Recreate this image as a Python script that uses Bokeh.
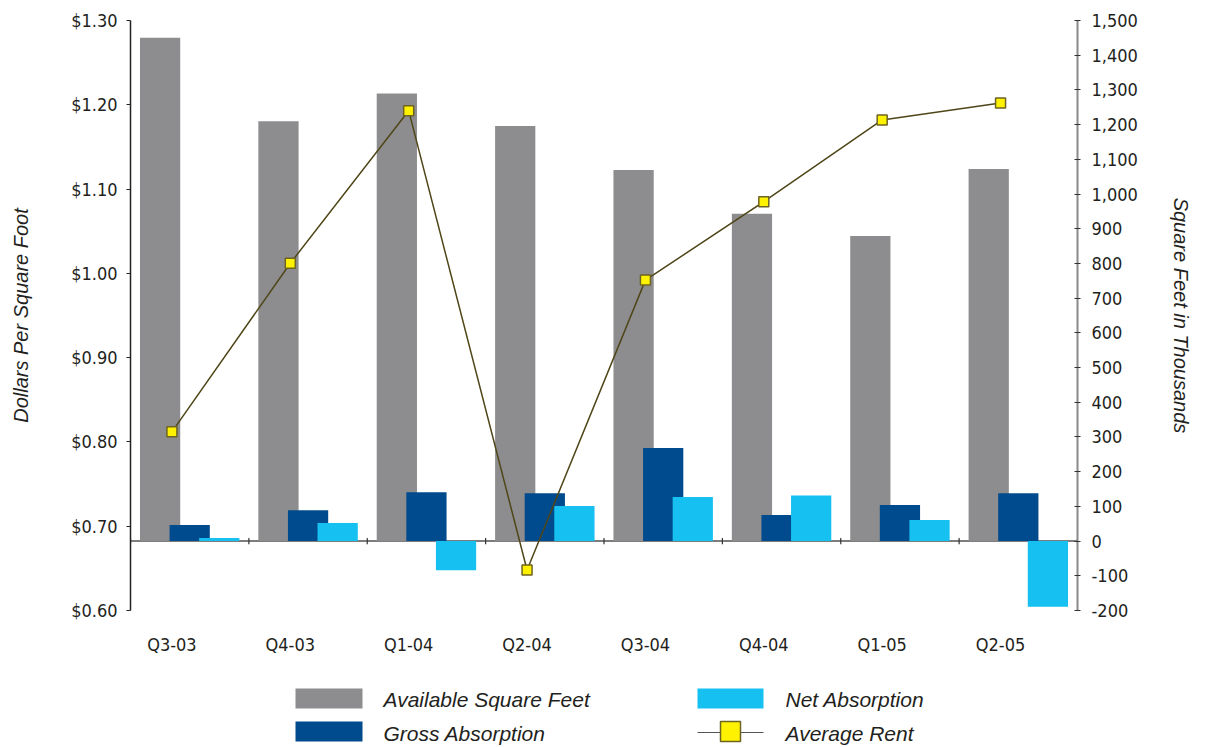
import numpy as np
from bokeh.plotting import figure
from bokeh.layouts import column
from bokeh.models import (Range1d, LinearAxis, FixedTicker, NumeralTickFormatter,
                          Span)
from bokeh.core.properties import value
from bokeh.embed import file_html
from bokeh.resources import INLINE

# ---------------- data ----------------
quarters = ["Q3-03", "Q4-03", "Q1-04", "Q2-04", "Q3-04", "Q4-04", "Q1-05", "Q2-05"]
available_sf = [1450, 1210, 1290, 1196, 1069, 943, 879, 1072]      # thousands sq ft
gross_absorption = [46, 89, 141, 138, 268, 75, 104, 138]           # thousands sq ft
net_absorption = [9, 52, -84, 101, 127, 131, 61, -189]             # thousands sq ft
average_rent = [0.812, 1.012, 1.193, 0.648, 0.992, 1.085, 1.182, 1.202]  # $/sq ft
series_names = ["Available Square Feet", "Gross Absorption", "Net Absorption", "Average Rent"]
left_ticks = [0.60, 0.70, 0.80, 0.90, 1.00, 1.10, 1.20, 1.30]
right_ticks = [-200, -100, 0, 100, 200, 300, 400, 500, 600, 700, 800, 900,
               1000, 1100, 1200, 1300, 1400, 1500]

# ---------------- styles ----------------
GRAY = "#8d8d8f"
DARK = "#004b8d"
CYAN = "#16c1f1"
LINE_C = "#4f4618"
MARK_FILL = "#fff200"
MARK_LINE = "#6d6322"
TXT = "#231f20"
NARROW = "DejaVu Sans Condensed"
ITAL = "Liberation Sans"

idx = np.arange(len(quarters))
center = idx + 0.15           # category centre (labels / line sit at integer positions)

p = figure(width=1206, height=660, output_backend="svg", toolbar_location=None,
           x_range=Range1d(-0.35, len(quarters) - 0.35),
           y_range=Range1d(0.60, 1.30),
           min_border_left=130, min_border_right=129, min_border_top=20,
           min_border_bottom=50, x_axis_location=None, y_axis_location=None,
           frame_align=False)
p.extra_y_ranges = {"right": Range1d(-200, 1500)}
p.outline_line_color = None
p.xgrid.visible = False
p.ygrid.visible = False
p.background_fill_color = "white"
p.border_fill_color = "white"

# zero line + category boundary ticks
zero = Span(location=0, dimension="width", y_range_name="right",
            line_color="#7d7d7d", line_width=2, level="underlay")
p.add_layout(zero)
bounds = np.arange(len(quarters) + 1) - 0.35
p.segment(x0=bounds, x1=bounds, y0=-9, y1=9, y_range_name="right",
          line_color="#333333", line_width=1.2)

# bars
bw = 0.34
p.vbar(x=center - 0.25, top=available_sf, bottom=0, width=bw, y_range_name="right",
       fill_color=GRAY, line_color=None)
p.vbar(x=center, top=gross_absorption, bottom=0, width=bw, y_range_name="right",
       fill_color=DARK, line_color=None)
p.vbar(x=center + 0.25, top=net_absorption, bottom=0, width=bw, y_range_name="right",
       fill_color=CYAN, line_color=None)

# average rent line
p.line(x=idx, y=average_rent, line_color=LINE_C, line_width=1.5)
p.scatter(x=idx, y=average_rent, marker="square", size=10,
          fill_color=MARK_FILL, line_color=MARK_LINE, line_width=1.5)

# left axis
la = LinearAxis(ticker=FixedTicker(ticks=left_ticks),
                formatter=NumeralTickFormatter(format="$0.00"),
                axis_label="Dollars Per Square Foot")
la.axis_line_color = "#222222"
la.axis_line_width = 1.5
la.major_tick_out = 4
la.major_tick_in = 0
la.major_tick_line_color = "#222222"
la.minor_tick_line_color = None
la.major_label_text_font = NARROW
la.major_label_text_font_size = "18px"
la.major_label_text_color = TXT
la.major_label_standoff = 9
la.axis_label_text_font = ITAL
la.axis_label_text_font_style = "italic"
la.axis_label_text_font_size = "20px"
la.axis_label_text_color = TXT
la.axis_label_standoff = 36
p.add_layout(la, "left")

# right axis
ra = LinearAxis(y_range_name="right", ticker=FixedTicker(ticks=right_ticks),
                formatter=NumeralTickFormatter(format="0,0"),
                axis_label="Square Feet in Thousands")
ra.axis_line_color = "#8a8a8a"
ra.axis_line_width = 2
ra.major_tick_out = 3
ra.major_tick_in = 3
ra.major_tick_line_color = "#333333"
ra.minor_tick_line_color = None
ra.major_label_text_font = NARROW
ra.major_label_text_font_size = "18px"
ra.major_label_text_color = TXT
ra.major_label_standoff = 11
ra.axis_label_text_font = ITAL
ra.axis_label_text_font_style = "italic"
ra.axis_label_text_font_size = "20px"
ra.axis_label_text_color = TXT
ra.axis_label_standoff = 29
p.add_layout(ra, "right")

# bottom category axis (labels only)
xa = LinearAxis(ticker=FixedTicker(ticks=list(idx)),
                major_label_overrides={int(i): q for i, q in zip(idx, quarters)})
xa.axis_line_color = None
xa.major_tick_line_color = None
xa.minor_tick_line_color = None
xa.major_label_text_font = NARROW
xa.major_label_text_font_size = "18px"
xa.major_label_text_color = TXT
xa.major_label_standoff = 17
p.add_layout(xa, "below")

# ---------------- legend (drawn as its own panel) ----------------
leg = figure(width=1206, height=87, output_backend="svg", toolbar_location=None,
             x_range=Range1d(0, 1206), y_range=Range1d(87, 0),
             min_border=0, x_axis_location=None, y_axis_location=None,
             frame_align=False)
leg.outline_line_color = None
leg.xgrid.visible = False
leg.ygrid.visible = False

sw_left = [295, 295, 697]
sw_right = [362, 362, 763]
sw_top = [28, 61, 28]
sw_bottom = [48, 81, 48]
leg.quad(left=sw_left, right=sw_right, top=sw_top, bottom=sw_bottom,
         fill_color=[GRAY, DARK, CYAN], line_color=None)
leg.segment(x0=[697], x1=[763], y0=[72], y1=[72], line_color="#555555", line_width=1.2)
leg.scatter(x=[730], y=[71], marker="square", size=20, fill_color=MARK_FILL,
            line_color=MARK_LINE, line_width=1.5)
leg.text(x=[383, 383, 785, 785], y=[39, 73, 39, 73],
         text=[series_names[0], series_names[1], series_names[2], series_names[3]],
         text_font=value(ITAL), text_font_style="italic", text_font_size="21px",
         text_color=TXT, text_baseline="middle", text_align="left")

layout = column(p, leg, spacing=0)
open("out.html", "w").write(file_html(layout, INLINE))
